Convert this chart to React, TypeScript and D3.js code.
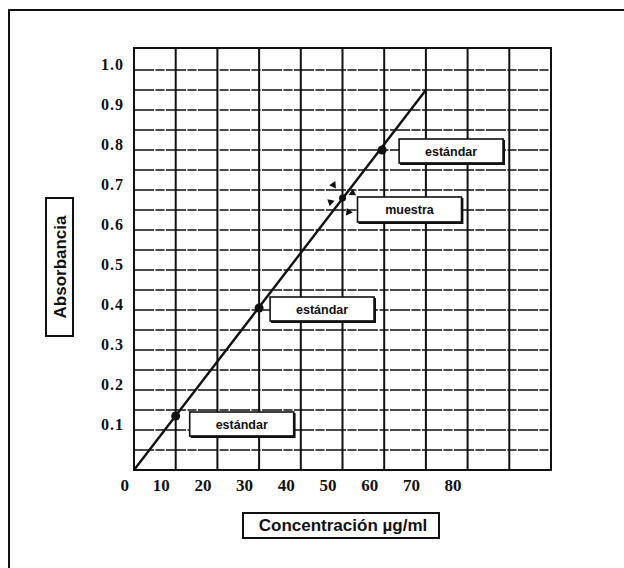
import * as d3 from 'd3'

// valores
const xTickLabels = [0, 10, 20, 30, 40, 50, 60, 70, 80]
const yTickLabels = [0.1, 0.2, 0.3, 0.4, 0.5, 0.6, 0.7, 0.8, 0.9, 1.0]
const lineConc = [0, 70]
const lineAbs = [0, 0.95]
const stdConc = [10, 30, 59.5]
const stdAbs = [0.135, 0.405, 0.8]
const sampleConc = [50]
const sampleAbs = [0.68]
const stdLabel = 'estándar'
const sampleLabel = 'muestra'
const xTitle = 'Concentración µg/ml'
const yTitle = 'Absorbancia'

const W = 624
const H = 568
const SERIF = '"Liberation Serif", "DejaVu Serif", serif'
const SANS = '"Liberation Sans", Arial, sans-serif'

// caja con sombra (bordes derecho e inferior más gruesos)
function LabelBox({ x, y, w, h, text, size }: { x: number; y: number; w: number; h: number; text: string; size: number }) {
  return (
    <g>
      <rect x={x} y={y} width={w} height={h} fill="#fff" stroke="#111" strokeWidth={1.6} />
      <path d={`M${x + w + 0.8},${y + 1}V${y + h + 0.8}H${x + 1}`} fill="none" stroke="#111" strokeWidth={2.2} />
      <text x={x + w / 2} y={y + h / 2 + size * 0.36} textAnchor="middle" fontFamily={SANS}
        fontWeight="bold" fontSize={size} fill="#111">{text}</text>
    </g>
  )
}

export default function App() {
  const x = d3.scaleLinear().domain([0, 100]).range([134, 551])
  const y = d3.scaleLinear().domain([0, 1.055]).range([470, 48])

  const vGrid = d3.range(0, 101, 10)
  const hGrid = d3.range(1, 22).map(i => i * 0.05).filter(v => v < 1.03)

  const calib = d3.line<number>()
    .x((_, i) => x(lineConc[i]))
    .y(d => y(d))(lineAbs)

  const stdOffsets = [{ dx: 14, dy: -4 }, { dx: 11, dy: -11 }, { dx: 17, dy: -11 }]
  const sampleOffset = { dx: 15, dy: -1 }
  const boxW = 104, boxH = 24

  const sx = x(sampleConc[0]), sy = y(sampleAbs[0])
  // flechitas alrededor del punto de la muestra
  const arrows = [[-9, -13], [10, -5], [-12, 4], [6, 14]]
  const tri = d3.symbol(d3.symbolTriangle, 24)()

  return (
    <svg width={W} height={H} viewBox={`0 0 ${W} ${H}`}
      style={{ position: 'absolute', left: 0, top: 0, background: '#fff' }}>
      <rect width={W} height={H} fill="#fff" />
      {/* marco exterior */}
      <path d={`M9,${H}V10H${W}`} fill="none" stroke="#111" strokeWidth={2} />

      {/* rejilla horizontal */}
      {hGrid.map(v => (
        <line key={'h' + v} x1={x(0)} x2={x(100)} y1={y(v)} y2={y(v)}
          stroke="#111" strokeWidth={1.7} strokeDasharray="20,1.5,9,1.5" />
      ))}
      {/* rejilla vertical */}
      {vGrid.map(v => (
        <line key={'v' + v} x1={x(v)} x2={x(v)} y1={y(0)} y2={y(1.055)}
          stroke="#111" strokeWidth={2} />
      ))}
      <rect x={x(0)} y={y(1.055)} width={x(100) - x(0)} height={y(0) - y(1.055)}
        fill="none" stroke="#111" strokeWidth={2} />

      {/* etiquetas eje y */}
      {yTickLabels.map(v => (
        <text key={'yl' + v} x={x(0) - 10} y={y(v)} textAnchor="end" fontFamily={SERIF}
          fontWeight="bold" fontSize={16} letterSpacing={1} fill="#111">{v.toFixed(1)}</text>
      ))}
      {/* etiquetas eje x */}
      {xTickLabels.map(v => (
        <text key={'xl' + v} x={x(v) - (v === 0 ? 5 : 6)} y={491} textAnchor="end" fontFamily={SERIF}
          fontWeight="bold" fontSize={17} fill="#111">{v}</text>
      ))}

      {/* recta de calibración */}
      <path d={calib ?? ''} fill="none" stroke="#111" strokeWidth={2.4} />

      {/* estándares */}
      {stdConc.map((c, i) => (
        <g key={'s' + i}>
          <circle cx={x(c)} cy={y(stdAbs[i])} r={4.5} fill="#111" />
          <LabelBox x={x(c) + stdOffsets[i].dx} y={y(stdAbs[i]) + stdOffsets[i].dy}
            w={boxW} h={boxH} text={stdLabel} size={12.5} />
        </g>
      ))}

      {/* muestra */}
      <circle cx={sx} cy={sy} r={3.5} fill="#111" />
      {arrows.map(([dx, dy], i) => {
        const ang = Math.atan2(-dy, -dx) * 180 / Math.PI + 90
        return (
          <path key={'a' + i} d={tri ?? ''} fill="#111"
            transform={`translate(${sx + dx},${sy + dy}) rotate(${ang})`} />
        )
      })}
      <LabelBox x={sx + sampleOffset.dx} y={sy + sampleOffset.dy} w={boxW} h={boxH + 1}
        text={sampleLabel} size={12.5} />

      {/* títulos */}
      <g>
        <rect x={46} y={198} width={27} height={138} fill="#fff" stroke="#111" strokeWidth={2} />
        <text transform={`translate(${66},${267}) rotate(-90)`} textAnchor="middle"
          fontFamily={SANS} fontWeight="bold" fontSize={17} fill="#111">{yTitle}</text>
      </g>
      <g>
        <rect x={243} y={513} width={196} height={25} fill="#fff" stroke="#111" strokeWidth={2} />
        <text x={343} y={531} textAnchor="middle" fontFamily={SANS} fontWeight="bold"
          fontSize={17} fill="#111">{xTitle}</text>
      </g>
    </svg>
  )
}
